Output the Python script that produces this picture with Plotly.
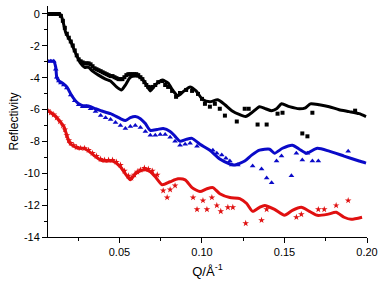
import plotly.graph_objects as go

# ---------------- black (offset 0) ----------------
q_black_data = [0.0066, 0.0084, 0.0102, 0.0120, 0.0133, 0.0145, 0.0157, 0.0169, 0.0181, 0.0193,
                0.0205, 0.0217, 0.0229, 0.0241, 0.0253, 0.0265, 0.0277, 0.0289, 0.0301, 0.0313,
                0.0325, 0.0337, 0.0349, 0.0361, 0.0373, 0.0386, 0.0398, 0.0410, 0.0422, 0.0434,
                0.0446, 0.0458, 0.0470, 0.0482, 0.0494, 0.0506, 0.0518, 0.0530, 0.0542, 0.0554,
                0.0566, 0.0578, 0.0590, 0.0602, 0.0614, 0.0627, 0.0639, 0.0651, 0.0663, 0.0675,
                0.0687, 0.0699, 0.0717, 0.0735, 0.0759, 0.0777, 0.0795, 0.0819, 0.0843, 0.0867,
                0.0904, 0.0940, 0.0976, 0.1000, 0.1018, 0.1048, 0.1078, 0.1108, 0.1139, 0.1211,
                0.1259, 0.1283, 0.1337, 0.1392, 0.1458, 0.1488, 0.1608, 0.1639, 0.1669, 0.1928]
r_black_data = [0, 0, 0, 0, 0, -0.12, -0.43, -0.87, -1.24, -1.49,
                -1.73, -1.98, -2.29, -2.6, -2.85, -2.97, -3.04, -3.1, -3.1, -3.1,
                -3.16, -3.28, -3.41, -3.47, -3.53, -3.59, -3.66, -3.72, -3.78, -3.84,
                -3.9, -3.9, -3.97, -4.03, -4.09, -4.09, -4.09, -3.97, -3.84, -3.78,
                -3.78, -3.78, -3.78, -3.78, -3.84, -3.97, -4.09, -4.28, -4.46, -4.58,
                -4.65, -4.58, -4.46, -4.28, -4.21, -4.46, -4.58, -4.83, -5.2, -4.96,
                -4.77, -4.83, -5.02, -5.33, -5.64, -5.82, -5.64, -5.95, -6.38, -6.75,
                -5.95, -5.95, -6.94, -6.94, -6.26, -6.2, -7.5, -7.68, -6.2, -6.07]
q_black_fit = [0.0066, 0.0133, 0.0145, 0.0157, 0.0175, 0.0205, 0.0235, 0.0265, 0.0289, 0.0313,
               0.0337, 0.0373, 0.0416, 0.0446, 0.0482, 0.0512, 0.0536, 0.0566, 0.0596, 0.0627,
               0.0657, 0.0687, 0.0717, 0.0759, 0.0795, 0.0825, 0.0855, 0.0892, 0.0928, 0.0964,
               0.1006, 0.1048, 0.1096, 0.1139, 0.1181, 0.1229, 0.1265, 0.1301, 0.1349, 0.1386,
               0.1422, 0.1452, 0.1482, 0.1530, 0.1590, 0.1627, 0.1657, 0.1711, 0.1771, 0.1831,
               0.1892, 0.1952, 0.1994]
r_black_fit = [0, 0, -0.06, -0.43, -1.18, -1.73, -2.48, -3.1, -3.35, -3.35,
               -3.59, -3.84, -4.09, -4.21, -4.58, -4.77, -4.46, -3.97, -3.9, -3.97,
               -4.34, -4.83, -4.46, -4.15, -4.34, -4.83, -5.14, -4.83, -4.58, -4.83,
               -5.39, -5.51, -5.39, -5.7, -6.07, -6.32, -6.44, -6.2, -5.82, -5.95,
               -6.07, -5.95, -5.64, -5.82, -5.95, -5.89, -5.64, -5.7, -5.82, -6.01,
               -6.13, -6.26, -6.44]

# ---------------- blue (offset -3) ----------------
q_blue_data = [0.0066, 0.0084, 0.0102, 0.0114, 0.0120, 0.0133, 0.0145, 0.0163, 0.0181, 0.0205,
               0.0229, 0.0253, 0.0277, 0.0301, 0.0325, 0.0355, 0.0386, 0.0416, 0.0446, 0.0476,
               0.0506, 0.0536, 0.0566, 0.0596, 0.0627, 0.0657, 0.0687, 0.0717, 0.0747, 0.0777,
               0.0807, 0.0837, 0.0867, 0.0898, 0.0928, 0.0970, 0.1066, 0.1090, 0.1120, 0.1145,
               0.1169, 0.1181, 0.1217, 0.1307, 0.1361, 0.1392, 0.1422, 0.1452, 0.1482, 0.1542,
               0.1572, 0.1608, 0.1639, 0.1669, 0.1705, 0.1886]
r_blue_data = [-2.97, -2.97, -2.97, -3.47, -3.97, -4.21, -4.34, -4.46, -4.65, -5.08,
               -5.45, -5.7, -5.82, -5.82, -5.95, -6.13, -6.38, -6.51, -6.63, -6.82,
               -7.0, -7.19, -7.06, -7.0, -7.12, -7.37, -7.62, -7.62, -7.56, -7.56,
               -7.74, -7.99, -8.24, -8.18, -8.11, -8.3, -8.55, -8.74, -8.86, -9.05,
               -9.23, -9.48, -9.48, -9.54, -9.73, -10.29, -10.6, -9.23, -8.92, -10.16,
               -8.74, -9.17, -8.74, -9.23, -9.23, -8.61]
q_blue_fit = [0.0066, 0.0102, 0.0114, 0.0120, 0.0133, 0.0145, 0.0163, 0.0181, 0.0205, 0.0229,
              0.0253, 0.0277, 0.0301, 0.0325, 0.0355, 0.0386, 0.0446, 0.0506, 0.0536, 0.0566,
              0.0596, 0.0627, 0.0657, 0.0687, 0.0729, 0.0765, 0.0807, 0.0837, 0.0867, 0.0904,
              0.0940, 0.0988, 0.1048, 0.1108, 0.1169, 0.1199, 0.1259, 0.1301, 0.1349, 0.1410,
              0.1440, 0.1488, 0.1548, 0.1590, 0.1633, 0.1699, 0.1771, 0.1861, 0.1952, 0.1994]
r_blue_fit = [-2.97, -2.97, -3.35, -3.97, -4.21, -4.28, -4.4, -4.58, -5.02, -5.39,
              -5.64, -5.76, -5.76, -5.82, -5.95, -6.07, -6.26, -6.57, -6.69, -6.51,
              -6.44, -6.57, -6.88, -7.31, -7.25, -7.19, -7.37, -7.68, -7.99, -7.87,
              -7.81, -8.18, -8.55, -9.11, -9.42, -9.48, -9.23, -8.86, -8.55, -8.49,
              -8.74, -8.43, -8.24, -8.49, -8.74, -8.43, -8.61, -8.92, -9.23, -9.36]

# ---------------- red (offset -6) ----------------
q_red_data = [0.0066, 0.0084, 0.0102, 0.0120, 0.0139, 0.0157, 0.0169, 0.0181, 0.0193, 0.0205,
              0.0223, 0.0241, 0.0265, 0.0289, 0.0313, 0.0337, 0.0361, 0.0386, 0.0410, 0.0434,
              0.0458, 0.0482, 0.0506, 0.0530, 0.0554, 0.0572, 0.0590, 0.0608, 0.0627, 0.0651,
              0.0675, 0.0699, 0.0729, 0.0765, 0.0789, 0.0807, 0.0837, 0.0946, 0.0970, 0.1006,
              0.1030, 0.1060, 0.1090, 0.1114, 0.1157, 0.1187, 0.1265, 0.1361, 0.1392, 0.1572,
              0.1602, 0.1705, 0.1741, 0.1813, 0.1886]
r_red_data = [-6.07, -6.2, -6.32, -6.51, -6.75, -7.0, -7.25, -7.62, -7.93, -8.11,
              -8.24, -8.36, -8.43, -8.43, -8.55, -8.74, -8.92, -9.11, -9.17, -9.17,
              -9.17, -9.29, -9.48, -9.85, -10.16, -10.29, -10.1, -9.91, -9.79, -9.67,
              -9.73, -9.85, -10.1, -11.09, -11.52, -11.03, -10.78, -11.52, -12.27, -11.71,
              -12.27, -11.52, -12.02, -12.39, -12.14, -12.14, -13.14, -12.95, -12.27, -12.76,
              -12.58, -12.27, -12.27, -12.02, -11.71]
q_red_fit = [0.0066, 0.0084, 0.0114, 0.0145, 0.0163, 0.0181, 0.0193, 0.0205, 0.0223, 0.0247,
             0.0283, 0.0313, 0.0343, 0.0386, 0.0416, 0.0458, 0.0506, 0.0536, 0.0566, 0.0596,
             0.0627, 0.0663, 0.0687, 0.0717, 0.0759, 0.0807, 0.0855, 0.0898, 0.0940, 0.0988,
             0.1030, 0.1066, 0.1108, 0.1169, 0.1229, 0.1271, 0.1307, 0.1349, 0.1380, 0.1440,
             0.1500, 0.1548, 0.1602, 0.1651, 0.1699, 0.1759, 0.1813, 0.1861, 0.1904, 0.1970]
r_red_fit = [-6.07, -6.2, -6.44, -6.82, -7.06, -7.62, -7.99, -8.18, -8.3, -8.43,
             -8.43, -8.61, -8.86, -9.17, -9.23, -9.23, -9.6, -10.04, -10.41, -10.04,
             -9.85, -9.79, -9.91, -10.22, -10.72, -10.53, -10.35, -10.41, -10.9, -11.15,
             -10.97, -10.9, -11.28, -11.52, -11.59, -11.9, -12.39, -12.14, -12.02, -12.27,
             -12.64, -12.33, -12.14, -12.39, -12.64, -12.58, -12.45, -12.76, -12.89, -12.76]

y_tick_vals = [0, -2, -4, -6, -8, -10, -12, -14]
y_tick_text = ["0", "-2", "-4", "-6", "-8", "-10", "-12", "-14"]
x_tick_vals = [0.05, 0.10, 0.15, 0.20]
x_tick_text = ["0.05", "0.10", "0.15", "0.20"]

BLACK = "#000000"
BLUE = "#0a0ac8"
RED = "#e01010"

fig = go.Figure()
fig.add_trace(go.Scatter(x=q_black_data, y=r_black_data, mode="markers",
                         marker=dict(symbol="square", size=4, color=BLACK)))
fig.add_trace(go.Scatter(x=q_black_fit, y=r_black_fit, mode="lines",
                         line=dict(color=BLACK, width=3, shape="spline", smoothing=0.6)))
fig.add_trace(go.Scatter(x=q_blue_data, y=r_blue_data, mode="markers",
                         marker=dict(symbol="triangle-up", size=5, color=BLUE)))
fig.add_trace(go.Scatter(x=q_blue_fit, y=r_blue_fit, mode="lines",
                         line=dict(color=BLUE, width=3, shape="spline", smoothing=0.6)))
fig.add_trace(go.Scatter(x=q_red_data, y=r_red_data, mode="markers",
                         marker=dict(symbol="star", size=5, color=RED)))
fig.add_trace(go.Scatter(x=q_red_fit, y=r_red_fit, mode="lines",
                         line=dict(color=RED, width=3, shape="spline", smoothing=0.6)))

font = "Liberation Sans, Arial, sans-serif"
fig.update_layout(
    width=386, height=282,
    margin=dict(l=48, r=19, t=6, b=42),
    paper_bgcolor="white", plot_bgcolor="white",
    showlegend=False,
    font=dict(family=font, size=11, color="black"),
    xaxis=dict(range=[0.0067, 0.2], tickvals=x_tick_vals, ticktext=x_tick_text,
               showgrid=False, zeroline=False, showline=True, linecolor="black", linewidth=1,
               ticks="outside", ticklen=5, tickcolor="black",
               minor=dict(dtick=0.025, tick0=0.025, ticks="outside", ticklen=3, tickcolor="black"),
               title=dict(text="Q/Å<sup>-1</sup>", font=dict(size=13), standoff=9)),
    yaxis=dict(range=[-14, 0.5], tickvals=y_tick_vals, ticktext=y_tick_text,
               showgrid=False, zeroline=False, showline=True, linecolor="black", linewidth=1,
               ticks="outside", ticklen=5, tickcolor="black",
               minor=dict(dtick=1, tick0=1, ticks="outside", ticklen=3, tickcolor="black"),
               title=dict(text="Reflectivity", font=dict(size=12), standoff=2)),
)
fig.write_html("out.html", config={"displayModeBar": False},
               post_script="document.body.style.margin='0';")
